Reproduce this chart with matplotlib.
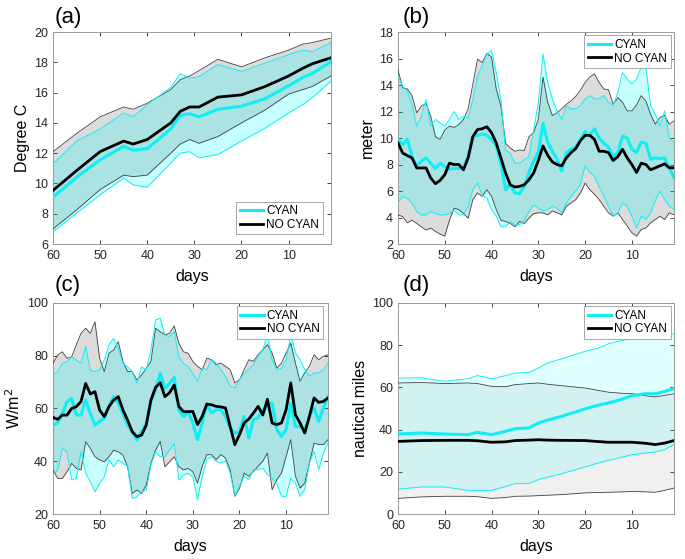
import numpy as np
import matplotlib
matplotlib.use("Agg")
import matplotlib.pyplot as plt

plt.rcParams['font.family'] = ['Liberation Sans', 'DejaVu Sans']

# ---------------- data ----------------
days_daily = list(range(60, 0, -1))

# panel (a) temperature
days_a = [60, 55, 50, 45, 43, 40, 35, 33, 31, 29, 25, 20, 15, 10, 7, 5, 1]
a_cyan_mean = [9.1, 10.4, 11.56, 12.45, 12.2, 12.3, 13.6, 14.5, 14.6, 14.4, 14.9, 15.1, 15.6, 16.45, 17.0, 17.25, 18.05]
a_black_mean = [9.54, 10.85, 12.1, 12.8, 12.6, 12.9, 14.0, 14.76, 15.05, 15.05, 15.7, 15.85, 16.4, 17.1, 17.6, 17.9, 18.3]
a_cyan_hi = [11.3, 12.8, 13.6, 14.65, 14.4, 15.2, 16.35, 17.25, 16.95, 17.05, 17.85, 17.4, 17.95, 18.5, 18.8, 18.7, 19.3]
a_black_hi = [12.1, 13.3, 14.4, 15.05, 14.9, 15.3, 16.2, 16.85, 17.1, 17.45, 18.2, 17.7, 18.3, 18.8, 19.2, 19.3, 19.6]
a_cyan_lo = [6.8, 8.05, 9.25, 10.35, 9.9, 9.75, 11.35, 12.0, 12.1, 11.7, 11.9, 12.8, 13.65, 14.65, 15.2, 15.65, 16.75]
a_black_lo = [7.0, 8.25, 9.6, 10.55, 10.45, 10.55, 12.0, 12.6, 12.9, 12.65, 13.1, 14.0, 14.85, 15.9, 16.2, 16.4, 17.1]

# panel (b) meter (days 60 -> 1)
b_cyan_mean = [9.9, 9.5, 9.9, 8.6, 7.9, 8.25, 8.5, 8.1, 7.7, 8.1,
               7.85, 7.65, 7.7, 7.7, 7.8, 8.6, 10.1, 10.2, 10.3, 10.2,
               9.9, 9.4, 8.1, 6.1, 6.5, 5.85, 5.8, 6.35, 7.4, 8.25,
               8.9, 11.1, 9.7, 9.0, 8.4, 7.5, 8.9, 9.15, 9.3, 9.9,
               10.5, 10.2, 10.7, 10.0, 9.6, 9.3, 8.6, 8.9, 10.15, 10.0,
               9.15, 8.9, 9.7, 9.6, 8.4, 8.5, 8.45, 8.5, 7.75, 7.0]
b_black_mean = [9.63, 8.87, 8.67, 8.5, 7.74, 7.74, 7.74, 6.98, 6.55, 6.8,
                7.23, 8.1, 8.0, 8.0, 7.6, 8.5, 10.1, 10.64, 10.7, 10.85,
                10.4, 9.63, 8.5, 7.36, 6.47, 6.3, 6.35, 6.47, 6.85, 7.36,
                8.3, 9.4, 8.7, 8.2, 8.0, 7.9, 8.5, 8.9, 9.2, 9.8,
                10.2, 10.2, 9.9, 9.0, 9.0, 8.9, 8.3, 8.6, 9.15, 8.5,
                8.0, 7.4, 8.1, 8.0, 7.6, 7.75, 7.9, 8.05, 7.75, 7.75]
b_black_hi = [15.14, 13.8, 13.7, 13.2, 11.9, 12.4, 12.6, 11.65, 10.1, 9.9,
              10.6, 10.9, 10.8, 11.0, 11.4, 12.2, 14.05, 15.95, 15.7, 16.4,
              16.1, 13.7, 12.4, 9.6, 9.25, 9.0, 9.1, 9.05, 10.1, 10.4,
              11.4, 14.6, 12.7, 11.7, 11.9, 12.2, 12.55, 12.8, 13.15, 13.6,
              14.2, 14.6, 14.85, 14.2, 13.7, 13.65, 12.55, 13.05, 12.7, 12.05,
              12.05, 12.5, 13.2, 12.8, 11.8, 11.05, 11.55, 11.7, 11.05, 11.3]
b_cyan_hi = [14.7, 13.9, 13.55, 12.5, 10.9, 11.65, 12.9, 10.9, 11.4, 11.15,
             10.9, 11.4, 12.0, 11.4, 11.65, 11.5, 12.9, 14.7, 15.45, 16.35,
             16.6, 14.95, 12.9, 9.1, 8.85, 8.1, 8.1, 8.35, 8.6, 10.6,
             12.65, 16.35, 14.2, 12.95, 12.05, 11.4, 12.45, 12.2, 12.2, 12.45,
             12.95, 13.2, 12.95, 12.95, 13.2, 12.7, 12.45, 13.45, 14.95, 14.45,
             14.1, 14.45, 15.35, 15.35, 12.45, 11.8, 10.9, 12.05, 10.0, 9.65]
b_black_lo = [4.2, 4.07, 3.6, 3.8, 3.55, 3.3, 3.05, 3.2, 2.95, 2.75,
              2.6, 3.8, 4.7, 4.6, 4.3, 3.95, 5.35, 5.85, 5.6, 6.1,
              5.6, 4.6, 3.8, 3.7, 3.55, 3.3, 3.7, 3.55, 3.95, 4.3,
              4.35, 4.35, 4.2, 4.5, 4.35, 4.2, 4.85, 5.1, 5.35, 5.85,
              6.6, 6.1, 5.75, 5.35, 4.85, 4.35, 4.1, 4.35, 3.85, 3.35,
              2.85, 2.6, 3.1, 3.2, 3.6, 3.85, 4.1, 3.85, 4.35, 4.2]
b_cyan_lo = [5.15, 5.6, 5.45, 5.1, 4.45, 4.2, 4.2, 4.45, 4.3, 4.2,
             4.2, 4.3, 4.55, 4.2, 4.2, 4.85, 6.1, 6.6, 5.7, 5.45,
             4.6, 4.1, 3.3, 3.3, 3.7, 3.45, 3.45, 3.8, 4.45, 4.95,
             4.7, 4.5, 4.6, 4.85, 4.7, 4.35, 5.1, 5.6, 6.0, 6.5,
             7.9, 7.4, 7.1, 6.35, 5.6, 4.85, 4.1, 4.35, 5.1, 4.85,
             4.1, 3.2, 4.1, 3.85, 4.35, 5.25, 6.0, 5.35, 4.85, 4.6]

# panel (c) W/m2 (days 60 -> 1)
c_black_mean = [56.6, 55.9, 57.5, 57.5, 60.0, 60.7, 62.6, 69.5, 65.5, 66.4,
                59.4, 56.9, 60.7, 63.2, 64.5, 59.4, 55.6, 51.2, 49.3, 49.9,
                53.7, 63.2, 68.0, 69.8, 64.5, 66.0, 68.9, 60.7, 58.8, 58.8,
                58.9, 53.9, 57.0, 61.7, 61.4, 60.8, 60.6, 60.2, 53.2, 46.3,
                50.1, 54.5, 56.0, 58.3, 60.8, 57.5, 63.5, 54.5, 53.9, 54.5,
                59.5, 69.7, 57.6, 54.5, 50.7, 57.0, 64.0, 62.3, 62.7, 64.0]
c_cyan_mean = [53.7, 54.4, 58.2, 62.6, 63.8, 57.5, 57.5, 63.2, 58.2, 53.7,
               55.0, 56.3, 60.7, 64.5, 62.0, 58.2, 53.7, 51.2, 48.0, 51.2,
               54.4, 62.6, 67.0, 73.3, 67.6, 69.5, 71.8, 59.4, 56.9, 58.8,
               54.4, 48.2, 54.5, 61.4, 58.3, 59.5, 59.5, 57.0, 52.6, 50.7,
               51.3, 57.0, 48.8, 55.8, 56.4, 59.5, 60.8, 62.1, 52.0, 49.4,
               52.0, 62.1, 53.2, 53.2, 52.0, 57.0, 60.2, 55.1, 60.2, 64.6]
c_black_hi = [77.1, 80.3, 81.5, 79.0, 79.6, 84.1, 88.5, 90.4, 88.5, 92.9,
              79.0, 74.0, 80.9, 82.2, 85.3, 77.8, 74.0, 74.0, 70.8, 72.7,
              75.2, 77.8, 90.4, 89.1, 87.9, 88.5, 91.3, 84.7, 81.5, 80.9,
              77.8, 76.0, 74.7, 79.1, 78.5, 76.6, 77.2, 76.0, 74.7, 69.7,
              70.9, 74.7, 78.5, 77.9, 80.4, 82.3, 84.2, 81.0, 75.3, 77.2,
              81.0, 84.8, 77.2, 70.3, 73.5, 76.0, 80.4, 78.5, 79.8, 80.4]
c_cyan_hi = [72.7, 74.0, 77.1, 77.8, 79.6, 78.4, 77.1, 83.5, 74.6, 74.0,
             74.6, 78.4, 84.1, 86.6, 82.8, 77.1, 75.8, 74.0, 69.5, 75.8,
             74.6, 82.2, 93.6, 94.2, 87.9, 87.3, 89.1, 79.6, 77.1, 75.8,
             73.3, 70.3, 75.3, 74.7, 78.5, 77.2, 74.7, 72.2, 68.4, 67.8,
             70.9, 73.5, 74.7, 76.6, 79.8, 82.3, 88.0, 78.5, 74.7, 75.3,
             78.5, 88.0, 81.0, 78.5, 74.7, 72.2, 73.5, 73.5, 74.7, 77.2]
c_black_lo = [36.7, 33.5, 33.5, 36.0, 39.2, 37.3, 36.7, 47.4, 44.9, 41.7,
              40.5, 39.8, 41.7, 44.2, 43.6, 42.3, 37.9, 27.8, 29.1, 27.8,
              31.0, 39.2, 44.2, 47.5, 37.9, 39.8, 41.7, 37.9, 36.7, 37.3,
              36.0, 31.7, 38.1, 42.5, 42.5, 40.6, 42.5, 41.2, 36.8, 26.7,
              29.8, 35.5, 34.3, 36.2, 38.1, 40.0, 43.1, 29.2, 33.0, 35.5,
              41.8, 48.2, 34.3, 29.8, 31.7, 39.3, 46.9, 46.3, 46.3, 48.2]
c_cyan_lo = [34.8, 36.7, 44.9, 43.6, 32.9, 33.5, 43.6, 35.4, 32.2, 28.4,
             31.6, 34.1, 40.5, 37.9, 40.5, 39.2, 37.9, 25.9, 26.5, 28.4,
             29.1, 38.6, 43.6, 41.7, 41.7, 44.2, 46.8, 32.9, 34.8, 35.4,
             34.1, 25.4, 34.3, 40.6, 41.8, 40.0, 39.3, 40.0, 35.5, 26.7,
             30.5, 34.3, 33.0, 36.8, 36.8, 37.4, 34.9, 33.6, 31.7, 26.7,
             26.7, 33.6, 31.7, 26.7, 29.2, 39.3, 43.7, 36.8, 43.1, 46.9]

# panel (d) nautical miles
days_d = [60, 55, 50, 45, 43, 40, 37, 35, 32, 30, 28, 25, 20, 17, 15, 12, 10, 7, 5, 3, 1]
d_cyan_mean = [37.9, 38.4, 37.9, 37.6, 38.7, 37.6, 39.2, 40.4, 40.8, 43.1, 44.5, 46.3, 49.8, 51.7, 52.6, 54.5, 56.1, 57.0, 57.0, 58.1, 59.4]
d_black_mean = [34.4, 34.8, 34.9, 34.9, 34.7, 34.0, 34.2, 34.8, 35.0, 35.2, 35.0, 34.9, 34.8, 34.3, 34.0, 34.0, 34.0, 33.5, 32.9, 33.6, 34.8]
d_cyan_hi = [64.5, 64.5, 62.9, 64.1, 65.6, 64.1, 65.6, 66.8, 67.1, 69.2, 71.6, 73.5, 77.1, 78.7, 80.7, 82.3, 83.4, 84.5, 84.8, 85.0, 85.3]
d_black_hi = [62.1, 62.3, 61.8, 62.1, 61.8, 60.5, 60.3, 61.3, 61.8, 62.1, 61.5, 60.8, 59.7, 58.5, 57.7, 57.2, 57.0, 56.0, 55.5, 56.2, 57.0]
d_cyan_lo = [11.8, 12.8, 12.8, 11.2, 11.2, 11.2, 13.0, 14.4, 14.4, 16.3, 17.5, 19.1, 22.3, 24.3, 25.4, 27.0, 28.1, 28.9, 29.4, 30.5, 32.9]
d_black_lo = [7.4, 8.1, 8.4, 8.4, 8.2, 7.4, 7.8, 8.4, 8.5, 8.7, 8.9, 9.2, 10.0, 10.2, 10.3, 10.5, 10.7, 10.5, 10.3, 11.2, 12.3]

xticks = [60, 50, 40, 30, 20, 10]

CYAN = '#10eef5'
BLACK = '#000000'

fig = plt.figure(figsize=(6.85, 5.59), dpi=100)

panels = [
    dict(pos=[0.0774, 0.5635, 0.4058, 0.3792], label='(a)', lab_xy=(0.080, 0.968),
         x=days_a, cm=a_cyan_mean, bm=a_black_mean, ch=a_cyan_hi, bh=a_black_hi,
         cl=a_cyan_lo, bl=a_black_lo, ylim=(6, 20), yticks=range(6, 21, 2),
         ylabel='Degree C', leg=dict(loc='lower right', bbox_to_anchor=(0.97, 0.045)),
         gray='#dcdcdc', calpha=0.22),
    dict(pos=[0.5810, 0.5635, 0.4029, 0.3792], label='(b)', lab_xy=(0.588, 0.968),
         x=days_daily, cm=b_cyan_mean, bm=b_black_mean, ch=b_cyan_hi, bh=b_black_hi,
         cl=b_cyan_lo, bl=b_black_lo, ylim=(2, 18), yticks=range(2, 19, 2),
         ylabel='meter', leg=dict(loc='upper right', bbox_to_anchor=(0.988, 0.985)),
         gray='#dcdcdc', calpha=0.22),
    dict(pos=[0.0774, 0.0805, 0.4015, 0.3775], label='(c)', lab_xy=(0.080, 0.490),
         x=days_daily, cm=c_cyan_mean, bm=c_black_mean, ch=c_cyan_hi, bh=c_black_hi,
         cl=c_cyan_lo, bl=c_black_lo, ylim=(20, 100), yticks=range(20, 101, 20),
         ylabel='W/m$^2$', leg=dict(loc='upper right', bbox_to_anchor=(0.982, 0.985)),
         gray='#dcdcdc', calpha=0.22),
    dict(pos=[0.5810, 0.0805, 0.4029, 0.3775], label='(d)', lab_xy=(0.588, 0.490),
         x=days_d, cm=d_cyan_mean, bm=d_black_mean, ch=d_cyan_hi, bh=d_black_hi,
         cl=d_cyan_lo, bl=d_black_lo, ylim=(0, 100), yticks=range(0, 101, 20),
         ylabel='nautical miles', leg=dict(loc='upper right', bbox_to_anchor=(0.988, 0.985)),
         gray='#f0f0f0', calpha=0.12),
]

for p in panels:
    ax = fig.add_axes(p['pos'])
    x = p['x']
    ax.fill_between(x, p['bl'], p['bh'], color=p['gray'], lw=0, zorder=1)
    ax.fill_between(x, p['cl'], p['ch'], color=(0, 1, 1), alpha=p['calpha'], lw=0, zorder=2)
    ax.plot(x, p['bh'], color='#404040', lw=0.6, zorder=3)
    ax.plot(x, p['bl'], color='#404040', lw=0.6, zorder=3)
    ax.plot(x, p['ch'], color=CYAN, lw=0.7, zorder=3)
    ax.plot(x, p['cl'], color=CYAN, lw=0.7, zorder=3)
    ax.plot(x, p['cm'], color=CYAN, lw=2.2, zorder=4, label='CYAN')
    ax.plot(x, p['bm'], color=BLACK, lw=2.0, zorder=5, label='NO CYAN')
    ax.set_xlim(60, 1)
    ax.set_ylim(*p['ylim'])
    ax.set_xticks(xticks)
    ax.set_yticks(list(p['yticks']))
    ax.tick_params(direction='in', top=True, right=True, length=3, width=0.6,
                   labelsize=9, colors='#262626')
    ax.tick_params(axis='x', pad=4.5)
    ax.tick_params(axis='y', pad=3.5)
    for s in ax.spines.values():
        s.set_color('#9a9a9a')
        s.set_linewidth(0.7)
    ax.set_xlabel('days', fontsize=11.5, labelpad=5)
    ax.set_ylabel(p['ylabel'], fontsize=11.5, labelpad=3)
    leg = ax.legend(fontsize=8.5, frameon=True, fancybox=False, framealpha=1,
                    edgecolor='#9a9a9a', handlelength=2.0, handletextpad=0.25,
                    labelspacing=0.15, borderpad=0.3, borderaxespad=0, **p['leg'])
    leg.get_frame().set_linewidth(0.6)
    fig.text(p['lab_xy'][0], p['lab_xy'][1], p['label'], fontsize=16, va='center', ha='left')

fig.savefig('out.png', dpi=100)
